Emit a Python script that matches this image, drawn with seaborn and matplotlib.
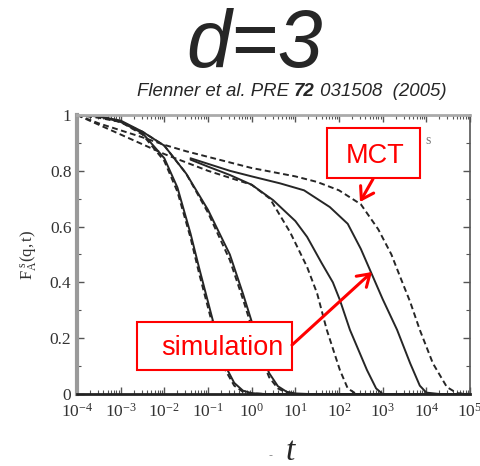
import numpy as np
import pandas as pd
import matplotlib
matplotlib.use("Agg")
import matplotlib.pyplot as plt
import seaborn as sns
from matplotlib.ticker import FixedLocator, FixedFormatter, LogLocator, NullFormatter, MultipleLocator
from matplotlib.patches import Rectangle, FancyArrowPatch

# ---------------- data (log10 t, F) ----------------
sim1_logt = [-4, -3.5, -3, -2.5, -2, -1.7, -1.4, -1.2, -1.0, -0.8, -0.6, -0.4, -0.2, 0, 0.3, 5]
sim1_F    = [1.0, 0.995, 0.975, 0.935, 0.845, 0.74, 0.575, 0.45, 0.33, 0.21, 0.10, 0.04, 0.012, 0.003, 0, 0]
mct1_logt = [-4, -3.5, -3, -2.5, -2, -1.7, -1.4, -1.2, -1.0, -0.8, -0.6, -0.4, -0.2, 0, 0.3, 5]
mct1_F    = [1.0, 0.995, 0.975, 0.93, 0.835, 0.725, 0.56, 0.43, 0.31, 0.19, 0.085, 0.03, 0.008, 0.002, 0, 0]

sim2_logt = [-4, -3.5, -3, -2.5, -2, -1.5, -1.0, -0.5, -0.2, 0, 0.2, 0.4, 0.6, 0.8, 1.0, 1.3, 5]
sim2_F    = [1.0, 0.995, 0.98, 0.94, 0.89, 0.79, 0.66, 0.50, 0.36, 0.26, 0.16, 0.075, 0.028, 0.008, 0.002, 0, 0]
mct2_logt = [-4, -3.5, -3, -2.5, -2, -1.5, -1.0, -0.5, -0.2, 0, 0.2, 0.4, 0.6, 0.8, 1.0, 5]
mct2_F    = [1.0, 0.99, 0.975, 0.94, 0.89, 0.79, 0.65, 0.48, 0.34, 0.24, 0.14, 0.06, 0.02, 0.005, 0, 0]

sim3_logt = [-1.4, -1.0, -0.5, 0, 0.49, 1.0, 1.27, 1.6, 1.86, 2.02, 2.25, 2.64, 2.85, 3.0, 5]
sim3_F    = [0.84, 0.815, 0.785, 0.75, 0.695, 0.62, 0.563, 0.47, 0.40, 0.337, 0.23, 0.086, 0.02, 0, 0]
mct3_logt = [-4, -3.5, -3, -2.5, -2, -1.5, -1.0, -0.5, 0, 0.42, 0.88, 1.27, 1.5, 1.72, 2.02, 2.2, 2.4, 5]
mct3_F    = [1.0, 0.965, 0.93, 0.895, 0.86, 0.83, 0.80, 0.775, 0.75, 0.70, 0.58, 0.455, 0.36, 0.23, 0.086, 0.02, 0, 0]

sim4_logt = [-1.4, -1.0, -0.5, 0, 0.65, 1.2, 1.79, 2.2, 2.5, 2.75, 3.0, 3.33, 3.63, 3.85, 4.0, 4.3, 5]
sim4_F    = [0.845, 0.825, 0.80, 0.78, 0.755, 0.73, 0.67, 0.61, 0.52, 0.43, 0.34, 0.23, 0.11, 0.03, 0.005, 0, 0]
mct4_logt = [-4, -3.5, -3, -2.5, -2, -1.5, -1, -0.5, 0, 0.5, 1, 1.5, 2, 2.5, 2.9, 3.2, 3.4, 3.63, 3.85, 4.15, 4.47, 4.7, 5]
mct4_F    = [1.0, 0.97, 0.945, 0.92, 0.893, 0.87, 0.85, 0.83, 0.81, 0.795, 0.78, 0.76, 0.73, 0.68, 0.59, 0.50, 0.42, 0.33, 0.23, 0.11, 0.025, 0.003, 0]

x_ticks = [1e-4, 1e-3, 1e-2, 1e-1, 1e0, 1e1, 1e2, 1e3, 1e4, 1e5]
x_ticklabels = [r"$10^{-4}$", r"$10^{-3}$", r"$10^{-2}$", r"$10^{-1}$", r"$10^{0}$",
                r"$10^{1}$", r"$10^{2}$", r"$10^{3}$", r"$10^{4}$", r"$10^{5}$"]
y_ticks = [0, 0.2, 0.4, 0.6, 0.8, 1.0]
y_ticklabels = ["0", "0.2", "0.4", "0.6", "0.8", "1"]

curves = [
    ("sim1", "simulation", sim1_logt, sim1_F), ("mct1", "MCT", mct1_logt, mct1_F),
    ("sim2", "simulation", sim2_logt, sim2_F), ("mct2", "MCT", mct2_logt, mct2_F),
    ("sim3", "simulation", sim3_logt, sim3_F), ("mct3", "MCT", mct3_logt, mct3_F),
    ("sim4", "simulation", sim4_logt, sim4_F), ("mct4", "MCT", mct4_logt, mct4_F),
]
rows = []
for name, kind, lt, F in curves:
    for a, b in zip(lt, F):
        rows.append({"curve": name, "kind": kind, "t": 10.0 ** a, "F": b})
df = pd.DataFrame(rows)

# ---------------- style ----------------
sns.set_style("ticks")
plt.rcParams["font.family"] = ["Liberation Serif", "DejaVu Serif"]
plt.rcParams["mathtext.fontset"] = "custom"
plt.rcParams["mathtext.rm"] = "Liberation Serif"
plt.rcParams["mathtext.it"] = "Liberation Serif:italic"
plt.rcParams["mathtext.bf"] = "Liberation Serif:bold"

W, H = 481, 466
fig = plt.figure(figsize=(W / 100, H / 100), dpi=100)
ax = fig.add_axes([77 / W, 1 - 394 / H, (470 - 77) / W, (394 - 115) / H])

for name, kind, lt, F in curves:
    sub = df[df["curve"] == name]
    ls = (0, (3.0, 1.8)) if kind == "MCT" else "-"
    sns.lineplot(data=sub, x="t", y="F", ax=ax, color="#262626", lw=1.4,
                 linestyle=ls, sort=False, estimator=None, legend=False)

ax.set_xscale("log")
ax.set_xlim(1e-4, 1e5)
ax.set_ylim(0, 1)
ax.set_xlabel("")
ax.set_ylabel("")
ax.xaxis.set_major_locator(FixedLocator(x_ticks))
ax.xaxis.set_major_formatter(FixedFormatter(x_ticklabels))
ax.xaxis.set_minor_locator(LogLocator(base=10, subs=np.arange(2, 10), numticks=20))
ax.xaxis.set_minor_formatter(NullFormatter())
ax.yaxis.set_major_locator(FixedLocator(y_ticks))
ax.yaxis.set_major_formatter(FixedFormatter(y_ticklabels))
ax.yaxis.set_minor_locator(MultipleLocator(0.1))
ax.tick_params(which="both", direction="in", top=True, right=True, colors="#555555",
               labelcolor="#333333")
ax.tick_params(axis="x", which="major", length=5, width=1.0, labelsize=12.5, pad=6)
ax.tick_params(axis="y", which="major", length=5, width=1.0, labelsize=12.5, pad=4)
ax.tick_params(which="minor", length=3, width=0.8)

for sp, c, lw in [("left", "#9a9a9a", 3.0), ("top", "#aaaaaa", 2.0),
                  ("right", "#555555", 1.2), ("bottom", "#222222", 2.0)]:
    ax.spines[sp].set_color(c)
    ax.spines[sp].set_linewidth(lw)

# ---------------- texts ----------------
fig.text(255 / W, 1 - 67 / H, "d=3", family="Liberation Sans", style="italic",
         fontsize=58, ha="center", va="baseline")

sub_parts = [("Flenner et al. PRE ", "normal"), ("72", "bold"), (" 031508  (2005)", "normal")]
fig.canvas.draw()
renderer = fig.canvas.get_renderer()
x_px = 137
y_frac = 1 - 91 / H
for txt, wgt in sub_parts:
    t = fig.text(x_px / W, y_frac, txt, family="Liberation Sans", style="italic",
                 weight=wgt, fontsize=13.4, ha="left", va="center")
    bb = t.get_window_extent(renderer=renderer)
    x_px += bb.width

fig.text(28 / W, 1 - 255 / H, r"$\mathrm{F}_{\mathrm{A}}^{\ \mathrm{s}}\mathrm{(q,t)}$",
         rotation=90, ha="center", va="center", fontsize=12, color="#333333")

fig.text(290 / W, 1 - 452 / H, "t", family="Liberation Serif", style="italic",
         fontsize=24, ha="center", va="center")
fig.text(271 / W, 1 - 456 / H, "-", family="Liberation Sans", fontsize=9,
         ha="center", va="center", color="#888888")
fig.text(428 / W, 1 - 140 / H, "s", family="Liberation Serif", fontsize=10,
         ha="center", va="center", color="#777777")

# ---------------- annotation boxes ----------------
for (x0, y0, x1, y1), label, (tx, ty) in [
        ((327, 128, 420, 178), "MCT", (375, 156)),
        ((137, 322, 292, 370), "simulation", (222, 348))]:
    fig.patches.append(Rectangle((x0 / W, 1 - y1 / H), (x1 - x0) / W, (y1 - y0) / H,
                                 transform=fig.transFigure, facecolor="white",
                                 edgecolor="#ff0000", lw=1.5, zorder=5))
    fig.text(tx / W, 1 - ty / H, label, family="Liberation Sans", fontsize=19.5,
             color="#ff0000", ha="center", va="center", zorder=6)

arrow = dict(arrowstyle="->,head_length=0.7,head_width=0.45", color="#ff0000", lw=2.2,
             shrinkA=0, shrinkB=0)
fig.add_artist(FancyArrowPatch((373 / W, 1 - 179 / H), (360 / W, 1 - 202 / H),
               transform=fig.transFigure, mutation_scale=12, zorder=7, **arrow))
fig.add_artist(FancyArrowPatch((292 / W, 1 - 345 / H), (372 / W, 1 - 272 / H),
               transform=fig.transFigure, mutation_scale=12, zorder=7, **arrow))

fig.savefig("out.png", dpi=100)
